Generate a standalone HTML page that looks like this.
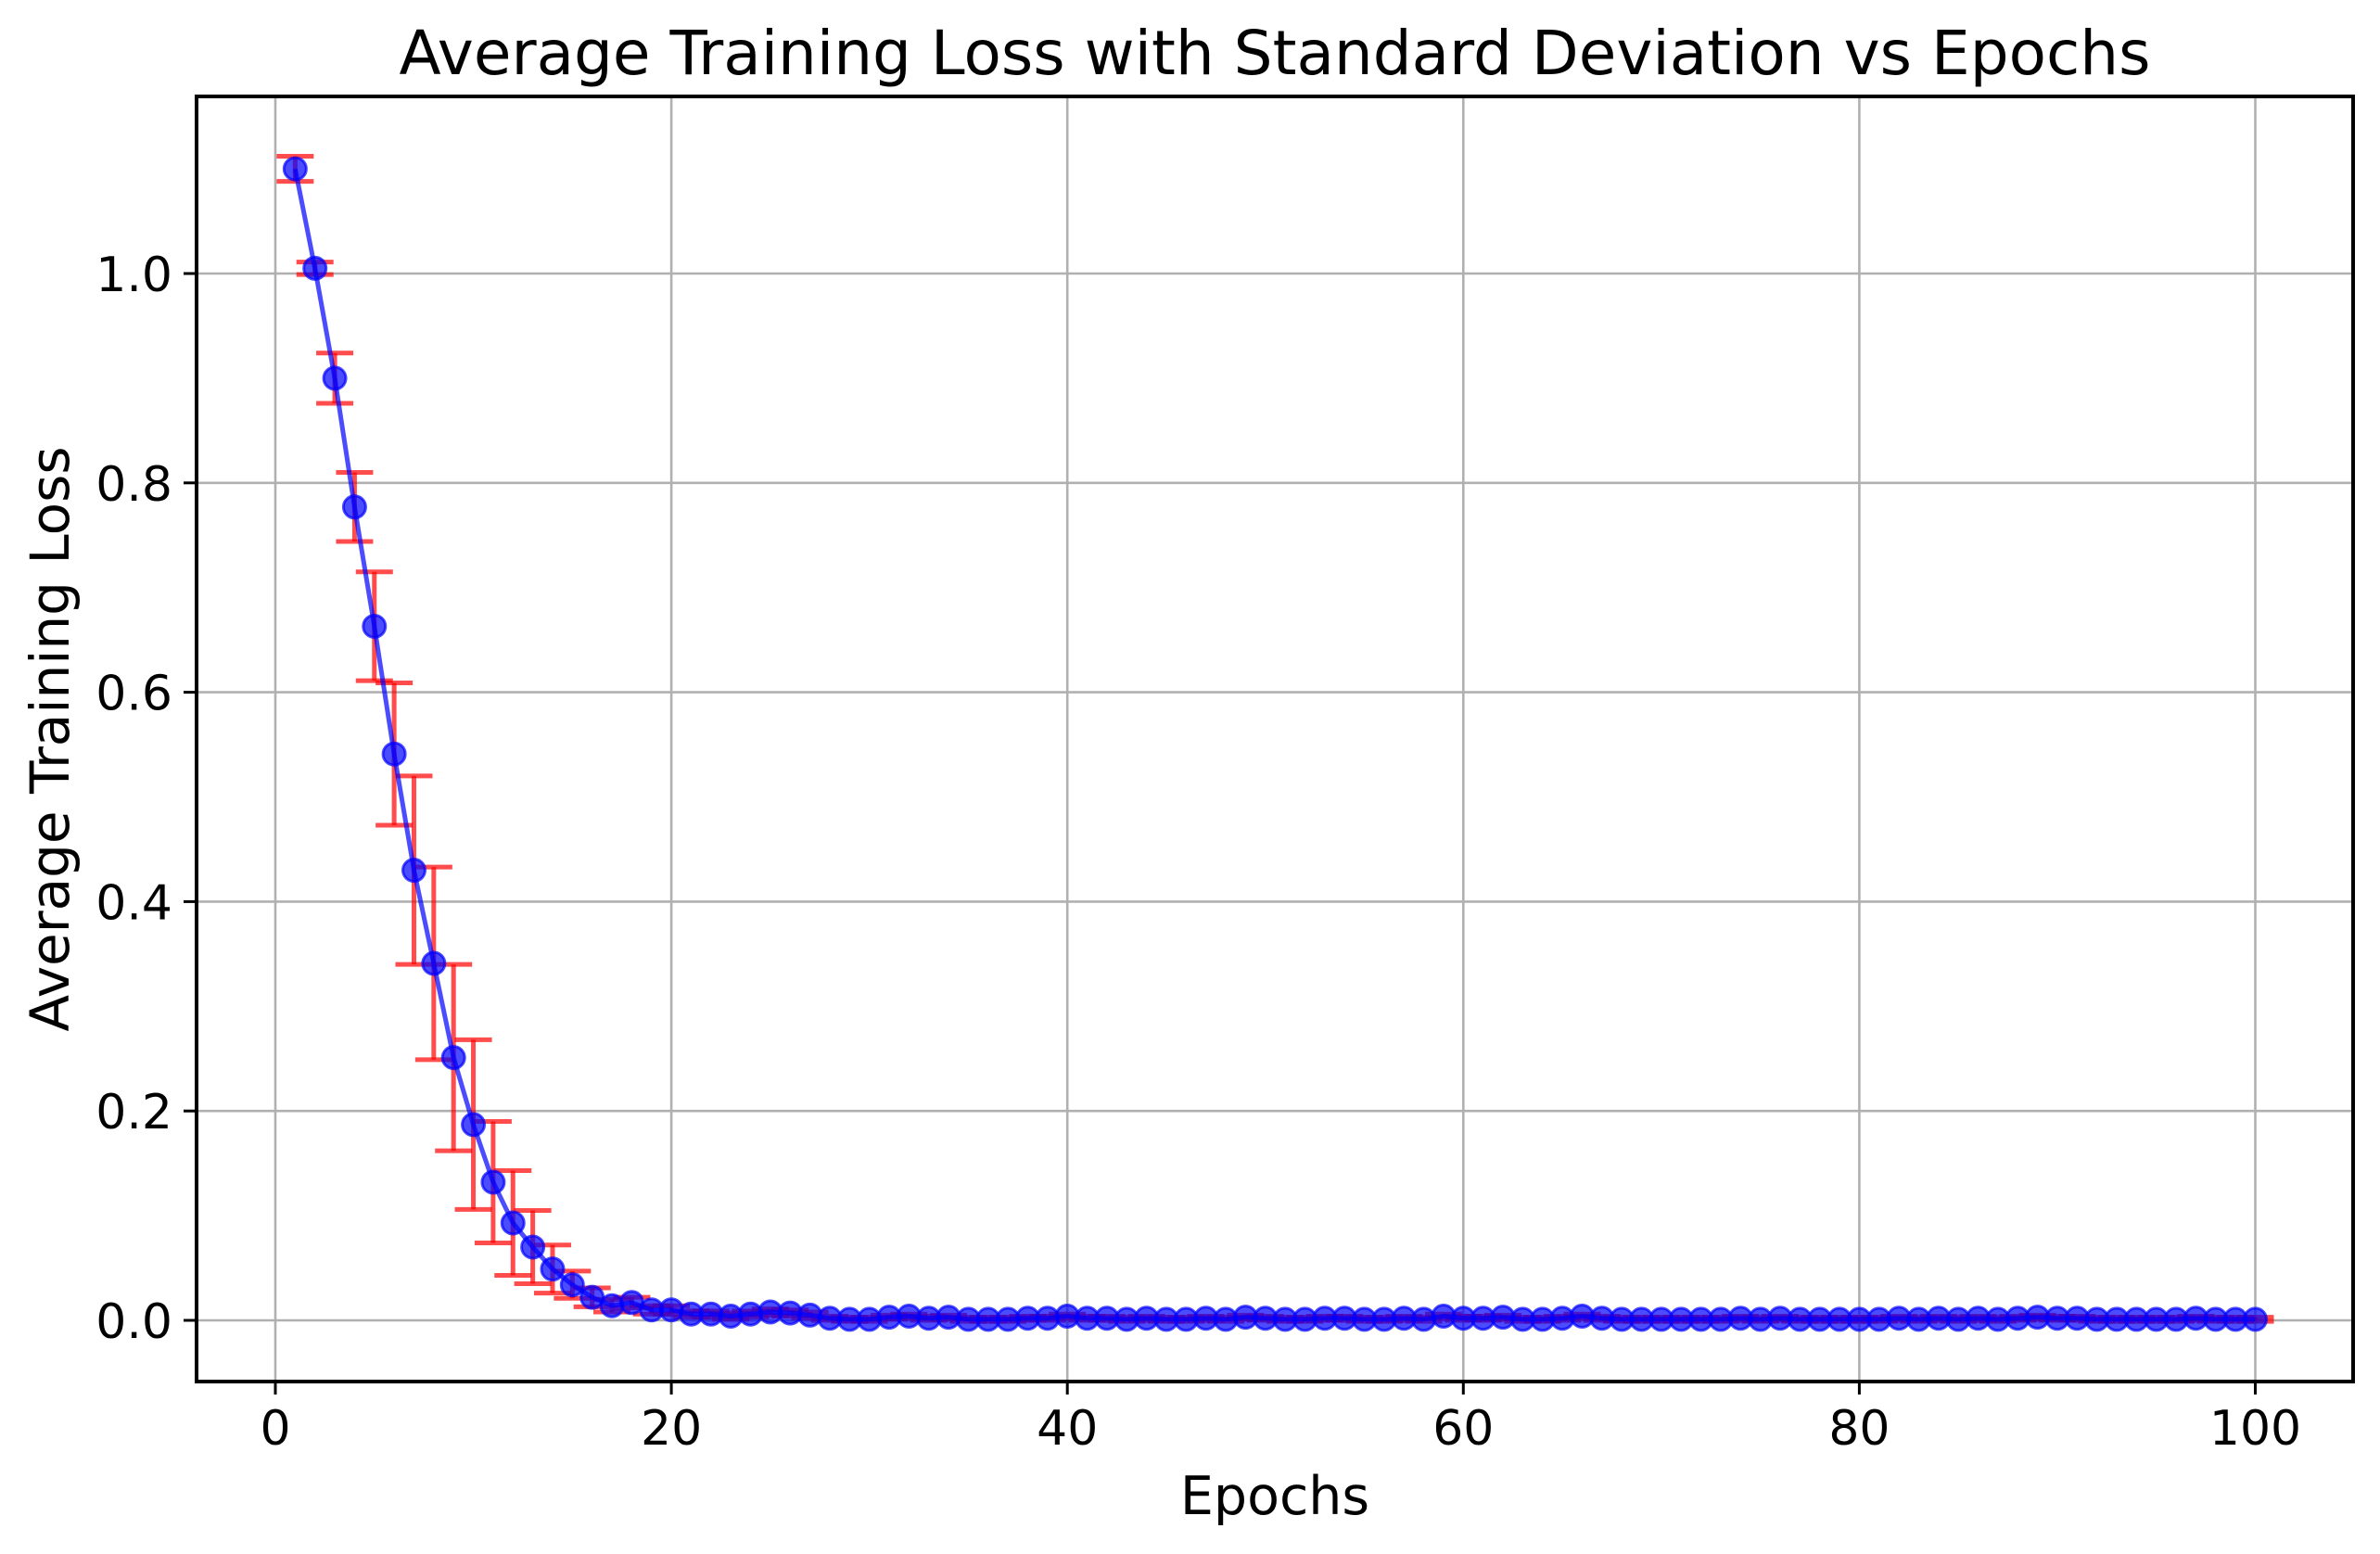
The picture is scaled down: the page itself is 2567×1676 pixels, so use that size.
<!DOCTYPE html>
<html><head><meta charset="utf-8"><style>
body{margin:0;background:#fff}
svg text{font-family:"DejaVu Sans","Liberation Sans",sans-serif}
</style></head><body>
<svg id="chart" width="2567" height="1671" viewBox="0 0 2567 1671" xmlns="http://www.w3.org/2000/svg">
<rect width="2567" height="1671" fill="#fff"/>
<g id="grid"></g>
<g id="err"></g>
<g id="series"></g>
<rect x="212" y="104" width="2326" height="1386" fill="none" stroke="#000" stroke-width="4"/>
<g id="ticks"></g>
<text x="1375" y="80" font-size="66" text-anchor="middle">Average Training Loss with Standard Deviation vs Epochs</text>
<text x="1375" y="1633" font-size="57" text-anchor="middle">Epochs</text>
<text transform="translate(74,797) rotate(-90)" font-size="58" text-anchor="middle">Average Training Loss</text>
</svg>
<script>
const xTicks=[0,20,40,60,80,100];
const yTicks=[0.0,0.2,0.4,0.6,0.8,1.0];
const yTickLabels=["0.0","0.2","0.4","0.6","0.8","1.0"];
const lossHead=[1.10,1.005,0.90,0.777,0.663,0.541,0.43,0.341,0.251,0.187,0.132,0.093,0.070,0.049,0.034,0.022,0.014,0.017,0.010,0.010,0.006,0.006,0.004,0.006,0.008,0.007,0.005];
const stdHead=[0.012,0.006,0.024,0.033,0.052,0.068,0.09,0.092,0.089,0.081,0.058,0.05,0.035,0.023,0.013,0.009,0.006,0.005,0.004,0.004,0.003,0.003,0.003,0.003,0.003,0.003,0.003];
const lossTail=[0.002,0.001,0.001,0.003,0.004,0.002,0.003,0.001,0.001,0.001,0.002,0.002,0.004,0.002,0.002,0.001,0.002,0.001,0.001,0.002,0.001,0.003,0.002,0.001,0.001,0.002,0.002,0.001,0.001,0.002,0.001,0.004,0.002,0.002,0.003,0.001,0.001,0.002,0.004,0.002,0.001,0.001,0.001,0.001,0.001,0.001,0.002,0.001,0.002,0.001,0.001,0.001,0.001,0.001,0.002,0.001,0.002,0.001,0.002,0.001,0.002,0.003,0.002,0.002,0.001,0.001,0.001,0.001,0.001,0.002,0.001,0.001,0.001];
const loss=lossHead.concat(lossTail);
const std=stdHead.concat(lossTail.map(()=>0.002));
const epochs=loss.map((_,i)=>i+1);
const X=v=>297+(v)*21.355;
const Y=v=>1424-v*1129;
const NS="http://www.w3.org/2000/svg";
function mk(tag,attrs,parent){const e=document.createElementNS(NS,tag);for(const k in attrs)e.setAttribute(k,attrs[k]);parent.appendChild(e);return e;}
const grid=document.getElementById('grid'),ticks=document.getElementById('ticks'),err=document.getElementById('err'),ser=document.getElementById('series');
xTicks.forEach(t=>{
  const g=mk('line',{x1:X(t),x2:X(t),y1:104,y2:1490,stroke:'#b0b0b0','stroke-width':2.6},grid);
  
  
  const tk=mk('line',{x1:X(t),x2:X(t),y1:1490,y2:1504,stroke:'#000','stroke-width':3},ticks);
  
  
  const tx=mk('text',{x:X(t),y:1558,'font-size':52,'text-anchor':'middle'},ticks);
  tx.textContent=t;
  
  
});
yTicks.forEach((t,i)=>{
  const g=mk('line',{x1:212,x2:2538,y1:Y(t),y2:Y(t),stroke:'#b0b0b0','stroke-width':2.6},grid);
  
  
  const tk=mk('line',{x1:198,x2:212,y1:Y(t),y2:Y(t),stroke:'#000','stroke-width':3},ticks);
  
  
  const tx=mk('text',{x:186,y:Y(t)+19,'font-size':52,'text-anchor':'end'},ticks);
  tx.textContent=yTickLabels[i];
  
  
});
epochs.forEach((e,i)=>{
  const x=X(e),y1=Y(loss[i]+std[i]),y2=Y(loss[i]-std[i]);
  const g=mk('g',{stroke:'#ff0000','stroke-opacity':0.7,'stroke-width':5},err);
  
  
  mk('line',{x1:x,x2:x,y1:y1,y2:y2},g);
  mk('line',{x1:x-20,x2:x+20,y1:y1,y2:y1},g);
  mk('line',{x1:x-20,x2:x+20,y1:y2,y2:y2},g);
});
const pl=mk('polyline',{points:epochs.map((e,i)=>X(e)+','+Y(loss[i])).join(' '),fill:'none',stroke:'#0000ff','stroke-opacity':0.7,'stroke-width':5},ser);


epochs.forEach((e,i)=>{
  const c=mk('circle',{cx:X(e),cy:Y(loss[i]),r:12,fill:'#0000ff','fill-opacity':0.7,stroke:'#0000ff','stroke-opacity':0.7,'stroke-width':3},ser);
  
  
});
</script>
</body></html>
